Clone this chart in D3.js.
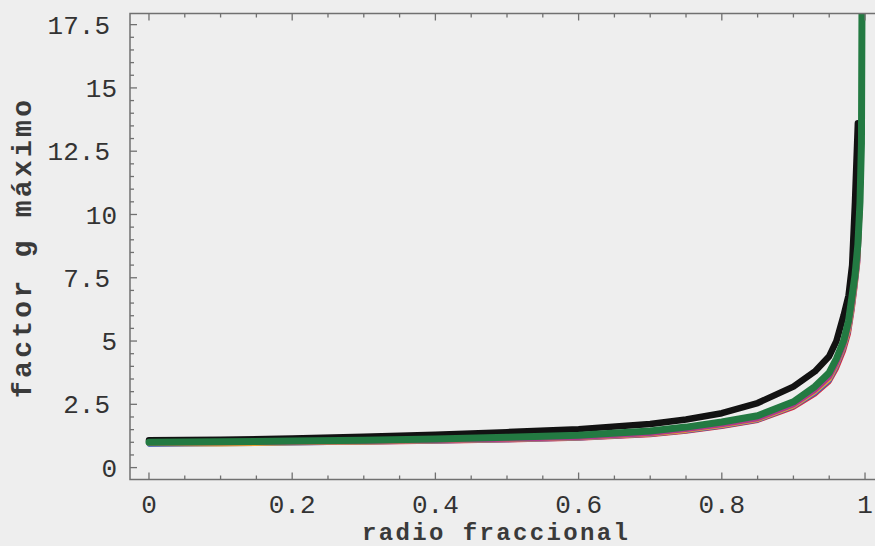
<!DOCTYPE html>
<html>
<head>
<meta charset="utf-8">
<script src="https://cdn.jsdelivr.net/npm/d3@7"></script>
<style>
  html, body { margin: 0; padding: 0; background: #eeeeee; }
  svg { display: block; }
</style>
</head>
<body>
<div id="chart"></div>
<script>
// radio fraccional (shared x values)
const radius = [0, 0.1, 0.2, 0.3, 0.4, 0.5, 0.6, 0.7, 0.75, 0.8, 0.85, 0.9, 0.93, 0.95, 0.96, 0.97, 0.977, 0.982, 0.986, 0.99, 0.993, 0.995, 0.996];

// factor g maximo, one list per curve (null = curve already ended)
const gBlack  = [1.08, 1.1, 1.15, 1.22, 1.3, 1.4, 1.52, 1.72, 1.9, 2.15, 2.55, 3.2, 3.8, 4.4, 5.0, 6.0, 6.8, 8.0, 10.5, 13.6, null, null, null];
const gRed    = [0.93, 0.95, 0.98, 1.0, 1.04, 1.09, 1.16, 1.3, 1.44, 1.62, 1.86, 2.38, 2.9, 3.4, 3.9, 4.6, 5.3, 6.2, 7.1, 8.1, 10.1, 12.4, 20];
const gBlue   = [0.92, 0.94, 0.97, 1.01, 1.05, 1.1, 1.17, 1.32, 1.46, 1.64, 1.88, 2.42, 2.95, 3.45, 4.0, 4.7, 5.4, 6.3, 7.2, 8.2, 10.2, 12.5, 20];
const gOrange = [0.95, 0.93, 0.98, 1.01, 1.06, 1.11, 1.18, 1.33, 1.47, 1.66, 1.9, 2.44, 3.0, 3.5, 4.05, 4.75, 5.45, 6.35, 7.25, 8.3, 10.2, 12.5, 20];
const gPurple = [0.97, 0.98, 1.0, 1.03, 1.07, 1.12, 1.19, 1.35, 1.5, 1.69, 1.93, 2.48, 3.05, 3.57, 4.1, 4.8, 5.55, 6.45, 7.35, 8.4, 10.3, 12.6, 20];
const gGreen  = [1.0, 1.02, 1.05, 1.08, 1.13, 1.2, 1.28, 1.45, 1.6, 1.8, 2.05, 2.6, 3.2, 3.75, 4.3, 5.0, 5.8, 6.8, 7.6, 8.8, 10.5, 12.8, 20];

const xTicks = [0, 0.2, 0.4, 0.6, 0.8, 1];
const xTickLabels = ["0", "0.2", "0.4", "0.6", "0.8", "1"];
const yTicks = [0, 2.5, 5, 7.5, 10, 12.5, 15, 17.5];
const yTickLabels = ["0", "2.5", "5", "7.5", "10", "12.5", "15", "17.5"];

const xLabel = "radio fraccional";
const yLabel = "factor g máximo";

const series = [
  { values: gRed,    color: "#e0283a", width: 5 },
  { values: gBlue,   color: "#2a6fd0", width: 5 },
  { values: gOrange, color: "#eda030", width: 5 },
  { values: gPurple, color: "#b03a8a", width: 5 },
  { values: gBlack,  color: "#121212", width: 6.5 },
  { values: gGreen,  color: "#237a42", width: 7 }
];

const W = 875, H = 546;
const frame = { left: 130, right: 884, top: 13.5, bottom: 479.5 };

const x = d3.scaleLinear().domain([-0.0265, 1.0265]).range([frame.left, frame.right]);
const y = d3.scaleLinear().domain([-0.47, 17.94]).range([frame.bottom, frame.top]);

const svg = d3.select("#chart").append("svg")
    .attr("width", W)
    .attr("height", H);

svg.append("rect")
    .attr("width", W).attr("height", H)
    .attr("fill", "#eeeeee");

svg.append("clipPath").attr("id", "plotclip")
  .append("rect")
    .attr("x", frame.left).attr("y", frame.top)
    .attr("width", frame.right - frame.left)
    .attr("height", frame.bottom - frame.top);

// curves
const line = d3.line()
    .defined(d => d[1] != null)
    .x(d => x(d[0]))
    .y(d => y(d[1]));

svg.append("g")
    .attr("clip-path", "url(#plotclip)")
  .selectAll("path")
  .data(series)
  .enter()
  .append("path")
    .attr("d", s => line(radius.map((r, i) => [r, s.values[i]])))
    .attr("fill", "none")
    .attr("stroke", d => d.color)
    .attr("stroke-width", d => d.width)
    .attr("stroke-linecap", "round")
    .attr("stroke-linejoin", "round");

// frame
const frameColor = "#707070";
svg.append("rect")
    .attr("x", frame.left).attr("y", frame.top)
    .attr("width", frame.right - frame.left)
    .attr("height", frame.bottom - frame.top)
    .attr("fill", "none")
    .attr("stroke", frameColor)
    .attr("stroke-width", 1.5);

// ticks point inward, as in a Mathematica frame
const xMinor = d3.range(0, 1.0001, 0.05).filter(v => Math.abs(v * 5 - Math.round(v * 5)) > 1e-6);
const yMinor = d3.range(0, 17.95, 0.5).filter(v => Math.abs(v / 2.5 - Math.round(v / 2.5)) > 1e-6);

const tickG = svg.append("g").attr("stroke", frameColor).attr("stroke-width", 1.3);

[[xTicks, 7], [xMinor, 4]].forEach(([vals, len]) => {
  tickG.selectAll(null).data(vals).enter().append("line")
      .attr("x1", d => x(d)).attr("x2", d => x(d))
      .attr("y1", frame.bottom).attr("y2", frame.bottom - len);
  tickG.selectAll(null).data(vals).enter().append("line")
      .attr("x1", d => x(d)).attr("x2", d => x(d))
      .attr("y1", frame.top).attr("y2", frame.top + len);
});
[[yTicks, 7], [yMinor, 4]].forEach(([vals, len]) => {
  tickG.selectAll(null).data(vals).enter().append("line")
      .attr("y1", d => y(d)).attr("y2", d => y(d))
      .attr("x1", frame.left).attr("x2", frame.left + len);
});

// tick labels
const font = "'Liberation Mono', 'Courier New', monospace";
const textColor = "#333";

svg.append("g").selectAll("text")
  .data(xTicks)
  .enter().append("text")
    .attr("x", d => x(d))
    .attr("y", 513)
    .attr("text-anchor", "middle")
    .attr("font-family", font)
    .attr("font-size", 26)
    .attr("fill", textColor)
    .text((d, i) => xTickLabels[i]);

svg.append("g").selectAll("text")
  .data(yTicks)
  .enter().append("text")
    .attr("x", (d, i) => yTickLabels[i].includes(".") ? 110 : 117)
    .attr("y", d => y(d))
    .attr("dy", "0.35em")
    .attr("text-anchor", "end")
    .attr("font-family", font)
    .attr("font-size", 26)
    .attr("fill", textColor)
    .text((d, i) => yTickLabels[i]);

// axis titles
svg.append("text")
    .attr("x", 495)
    .attr("y", 540)
    .attr("text-anchor", "middle")
    .attr("font-family", font)
    .attr("font-size", 24)
    .attr("font-weight", "bold")
    .attr("fill", "#3a3a3a")
    .attr("textLength", 266)
    .attr("lengthAdjust", "spacing")
    .text(xLabel);

svg.append("text")
    .attr("transform", "translate(31,249) rotate(-90)")
    .attr("text-anchor", "middle")
    .attr("font-family", font)
    .attr("font-size", 28)
    .attr("font-weight", "bold")
    .attr("fill", "#3a3a3a")
    .attr("textLength", 298)
    .attr("lengthAdjust", "spacing")
    .text(yLabel);
</script>
</body>
</html>
